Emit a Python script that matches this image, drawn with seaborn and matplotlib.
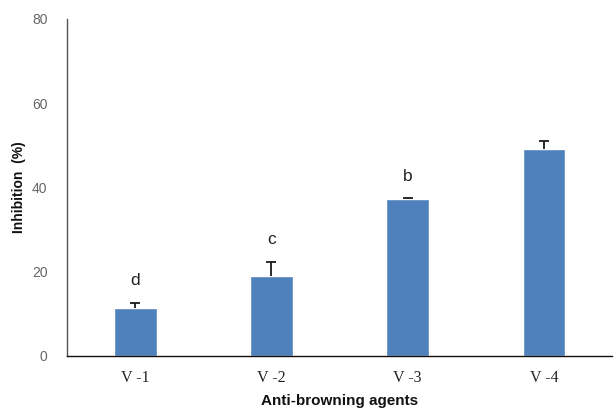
import matplotlib
matplotlib.use("Agg")
import matplotlib.pyplot as plt
import seaborn as sns
import pandas as pd
import numpy as np

categories = ["V -1", "V -2", "V -3", "V -4"]
values = [11.3, 19.0, 37.3, 49.1]
errors = [1.2, 3.3, 0.3, 1.9]
letters = ["d", "c", "b", ""]
letter_y = [18.0, 27.6, 42.6, None]
yticks = [0, 20, 40, 60, 80]

sns.set_theme(style="white")
plt.rcParams['font.family'] = ['DejaVu Sans']

df = pd.DataFrame({"agent": categories, "inhibition": values})

fig = plt.figure(figsize=(6.14, 4.12), dpi=100)
ax = fig.add_axes([0.109, 0.136, 0.888, 0.818])

sns.barplot(data=df, x="agent", y="inhibition", color="#4F81BD", saturation=1,
            width=0.315, ax=ax, errorbar=None)
x = np.arange(len(categories))
eb = ax.errorbar(x, values, yerr=[np.zeros(len(values)), errors], fmt="none",
                 ecolor="#1a1a1a", elinewidth=1.3, capsize=3.3, capthick=1.3)
caplines = eb.lines[1]
if len(caplines) == 2:
    caplines[0].set_visible(False)
for xi, lab, ly in zip(x, letters, letter_y):
    if lab:
        ax.text(xi, ly, lab, ha="center", va="center", fontsize=12.5, color="#222222",
                family="Liberation Sans")

ax.set_xlim(-0.5, 3.5)
ax.set_ylim(0, 80)
ax.set_yticks(yticks)
ax.set_yticklabels([str(t) for t in yticks], color="#666666", fontsize=10,
                   family="Liberation Sans")
ax.tick_params(axis="y", length=0, pad=14)
ax.tick_params(axis="x", length=0, pad=10)
for lab in ax.get_xticklabels():
    lab.set_family("Liberation Serif")
    lab.set_fontsize(11.5)
    lab.set_color("#222222")

ax.set_ylabel("Inhibition  (%)", fontsize=10, fontweight="bold", family="Liberation Sans",
              color="#111111", labelpad=4)
ax.set_xlabel("Anti-browning agents", fontsize=11, fontweight="bold", family="Liberation Sans",
              color="#111111", labelpad=6)

for s in ["top", "right"]:
    ax.spines[s].set_visible(False)
ax.spines["left"].set_color("#555555")
ax.spines["left"].set_linewidth(1.0)
ax.spines["bottom"].set_color("#111111")
ax.spines["bottom"].set_linewidth(1.0)

fig.savefig("out.png", dpi=100, facecolor="white")
